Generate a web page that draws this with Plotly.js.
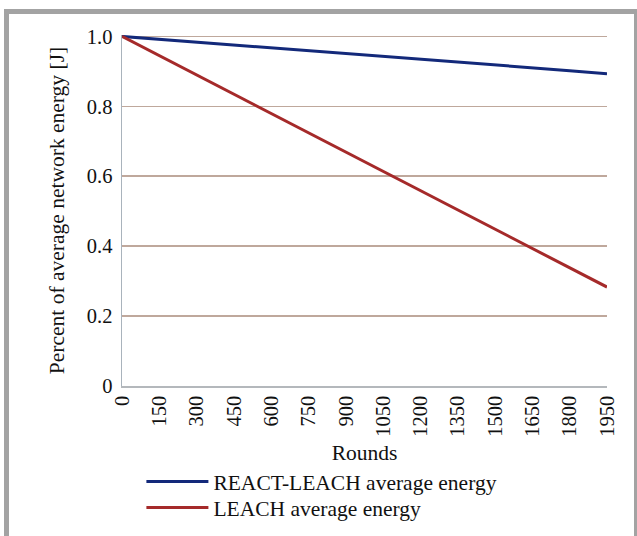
<!DOCTYPE html>
<html>
<head>
<meta charset="utf-8">
<script src="https://cdn.plot.ly/plotly-3.0.1.min.js"></script>
<style>
  html, body { margin: 0; padding: 0; background: #fff; }
  #wrap { position: relative; width: 637px; height: 536px; overflow: hidden; }
  #frame { position: absolute; left: 4px; top: 9px; width: 640px; height: 540px;
           border-top: 5px solid #a3a3a3; border-left: 5px solid #a3a3a3; box-sizing: border-box; }
  #frameR { position: absolute; left: 634px; top: 9px; width: 3px; height: 527px; background: #a3a3a3; }
  #chart { position: absolute; left: 0; top: 0; width: 637px; height: 536px; }
</style>
</head>
<body>
<div id="wrap">
  <div id="chart"></div>
  <div id="frame"></div>
  <div id="frameR"></div>
</div>
<script>
const rounds = [0, 150, 300, 450, 600, 750, 900, 1050, 1200, 1350, 1500, 1650, 1800, 1950];
const reactLeach = [1.0, 0.992, 0.984, 0.975, 0.967, 0.959, 0.951, 0.943, 0.934, 0.926, 0.918, 0.910, 0.902, 0.893];
const leach = [1.0, 0.945, 0.890, 0.835, 0.779, 0.724, 0.669, 0.614, 0.559, 0.504, 0.448, 0.393, 0.338, 0.283];
const yTickVals = [0, 0.2, 0.4, 0.6, 0.8, 1.0];
const yTickText = ["0", "0.2", "0.4", "0.6", "0.8", "1.0"];
const seriesNames = ["REACT-LEACH average energy", "LEACH average energy"];

const font = "Liberation Serif, Times New Roman, serif";
const legFont = { family: font, size: 21.5, color: "#111" };

const traces = [
  { x: rounds, y: reactLeach, name: seriesNames[0], mode: "lines", type: "scatter",
    legend: "legend", line: { color: "#13297a", width: 3 } },
  { x: rounds, y: leach, name: seriesNames[1], mode: "lines", type: "scatter",
    legend: "legend2", line: { color: "#a52a2a", width: 3 } }
];

const layout = {
  width: 637, height: 536,
  margin: { l: 122, r: 30, t: 35, b: 150, autoexpand: false },
  paper_bgcolor: "#fff", plot_bgcolor: "#fff",
  font: { family: font, size: 20, color: "#111" },
  showlegend: true,
  legend: { x: 0.04, y: -0.214, xanchor: "left", yanchor: "top", font: legFont,
            itemwidth: 62, bgcolor: "rgba(0,0,0,0)" },
  legend2: { x: 0.04, y: -0.288, xanchor: "left", yanchor: "top", font: legFont,
            itemwidth: 62, bgcolor: "rgba(0,0,0,0)" },
  xaxis: {
    range: [0, 1950], tickvals: rounds, ticktext: rounds.map(String),
    tickangle: -90, showgrid: false, zeroline: false, automargin: false,
    showline: true, linecolor: "#b4b8bc", linewidth: 1.5,
    ticks: "", tickfont: { family: font, size: 20.5, color: "#111" },
    title: { text: "Rounds", standoff: 9, font: { family: font, size: 21.5, color: "#111" } }
  },
  yaxis: {
    range: [0, 1.004], tickvals: yTickVals, ticktext: yTickText,
    showgrid: true, gridcolor: "#bfa89c", gridwidth: 1.5, zeroline: false, automargin: false,
    showline: true, linecolor: "#a9b3bc", linewidth: 1.5,
    ticks: "", ticklabelstandoff: 4, tickfont: { family: font, size: 20.5, color: "#111" },
    title: { text: "Percent of average network energy [J]", standoff: 16,
             font: { family: font, size: 21.5, color: "#111" } }
  }
};

Plotly.newPlot("chart", traces, layout, { displayModeBar: false, staticPlot: true });
</script>
</body>
</html>
